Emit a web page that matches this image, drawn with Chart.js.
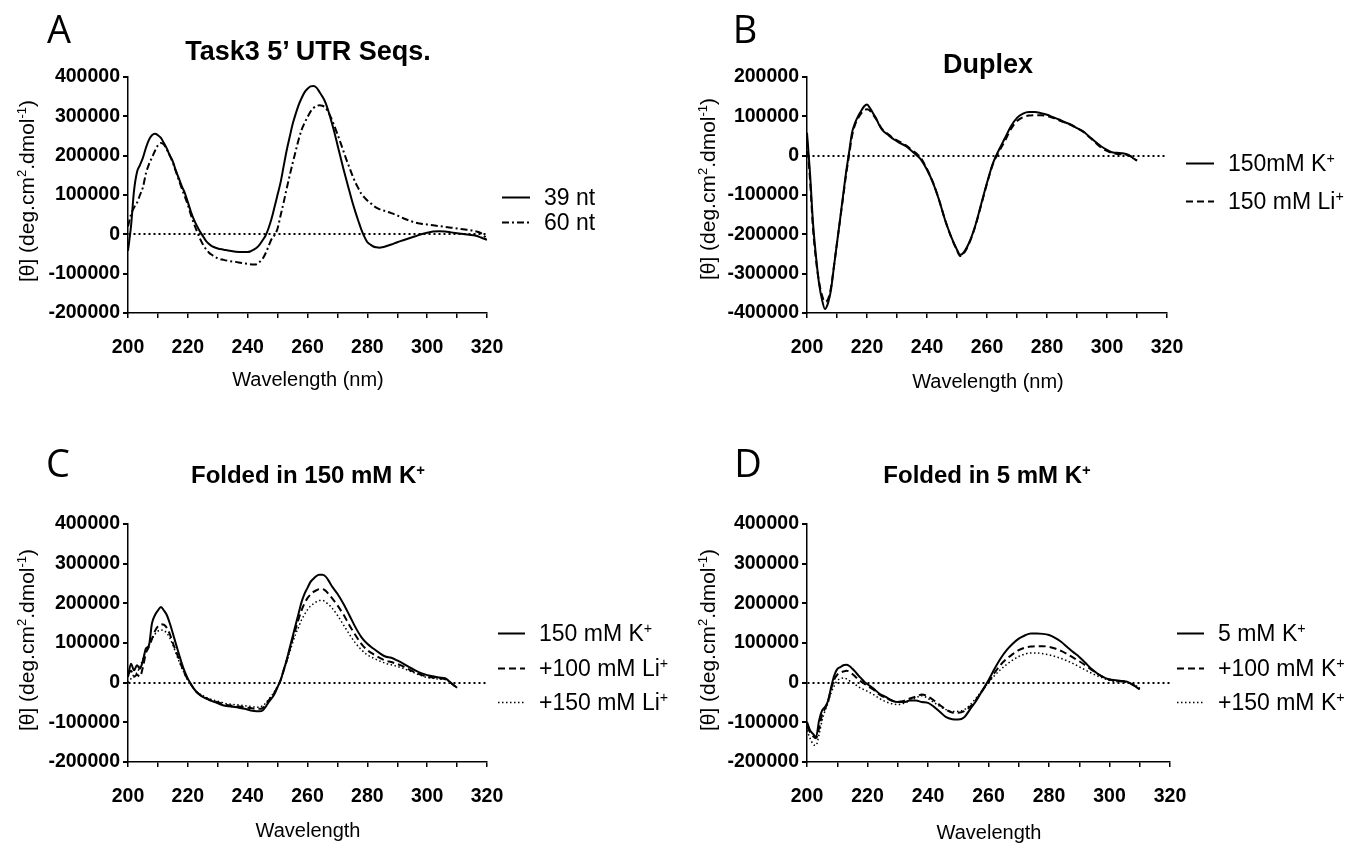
<!DOCTYPE html>
<html><head><meta charset="utf-8">
<script src="https://cdn.jsdelivr.net/npm/chart.js@4.4.1/dist/chart.umd.min.js"></script>
<style>
body{margin:0;background:#fff}
#wrap{position:relative;width:1355px;height:843px;overflow:hidden;font-family:"Liberation Sans",Arial,sans-serif;color:#000}
canvas{position:absolute}
.t{position:absolute;transform:translate(-50%,-50%);white-space:nowrap;line-height:1}
.letter{font-family:"Open Sans",sans-serif;font-size:38px}
.ttl{font-weight:bold;font-size:27px}
.ttl.sm{font-size:24px}
.xt{font-size:20px}
.yt{font-size:21px;transform:translate(-50%,-50%) rotate(-90deg)}
sup{font-size:62%;vertical-align:0.55em;line-height:0}
.lr{position:absolute;display:flex;align-items:center;transform:translateY(-50%);font-size:23px;line-height:1;white-space:nowrap}
.lr svg{display:block}
</style>
</head><body>
<div id="wrap">
<canvas id="cA" width="678" height="421" style="left:0;top:0"></canvas>
<canvas id="cB" width="677" height="421" style="left:678px;top:0"></canvas>
<canvas id="cC" width="678" height="422" style="left:0;top:421px"></canvas>
<canvas id="cD" width="677" height="422" style="left:678px;top:421px"></canvas>

<div class="t letter" style="left:59px;top:28px">A</div>
<div class="t letter" style="left:745px;top:28px">B</div>
<div class="t letter" style="left:58px;top:462px">C</div>
<div class="t letter" style="left:748px;top:462px">D</div>

<div class="t ttl" style="left:308px;top:51px">Task3 5’ UTR Seqs.</div>
<div class="t ttl" style="left:988px;top:64px">Duplex</div>
<div class="t ttl sm" style="left:308px;top:475px">Folded in 150 mM K<sup>+</sup></div>
<div class="t ttl sm" style="left:987px;top:475px">Folded in 5 mM K<sup>+</sup></div>

<div class="t xt" style="left:308px;top:379px">Wavelength (nm)</div>
<div class="t xt" style="left:988px;top:381px">Wavelength (nm)</div>
<div class="t xt" style="left:308px;top:830px">Wavelength</div>
<div class="t xt" style="left:989px;top:832px">Wavelength</div>

<div class="t yt" style="left:26px;top:191px">[θ] (deg.cm<sup>2</sup>.dmol<sup>-1</sup>)</div>
<div class="t yt" style="left:707px;top:189px">[θ] (deg.cm<sup>2</sup>.dmol<sup>-1</sup>)</div>
<div class="t yt" style="left:26px;top:640px">[θ] (deg.cm<sup>2</sup>.dmol<sup>-1</sup>)</div>
<div class="t yt" style="left:707px;top:640px">[θ] (deg.cm<sup>2</sup>.dmol<sup>-1</sup>)</div>
</div>
<script>
// A: Task3 5' UTR
const aWl39=[200,201,202,203,204,205,206,207,208,209,210,211,212,213,214,215,216,217,218,219,220,221,222,223,224,225,226,227,228,230,232,234,236,238,240,241,242,243,244,245,246,247,248,249,250,251,252,253,254,255,256,257,258,259,260,261,262,263,264,265,266,267,268,269,270,271,272,273,274,275,276,277,278,279,280,281,282,283,284,285,286,288,290,292,294,296,298,300,302,304,306,308,310,312,314,316,318,320];
const a39=[-42000,20000,110000,158000,176000,195000,220000,240000,252000,256000,252000,245000,232000,218000,200000,185000,162000,142000,122000,105000,82000,58000,38000,22000,8000,-4000,-16000,-24000,-30000,-36000,-39000,-42000,-44000,-45000,-45000,-43000,-39000,-34000,-26000,-15000,-3000,16000,40000,70000,101000,132000,172000,212000,246000,279000,305000,328000,346000,361000,370000,376000,377000,373000,362000,350000,335000,313000,287000,259000,228000,197000,167000,138000,110000,82000,57000,34000,12000,-6000,-20000,-26000,-31000,-33000,-34000,-33000,-31000,-26000,-20000,-15000,-10000,-5000,0,4000,7000,8000,7000,5000,3000,1000,-1000,-3000,-8000,-14000];
const aWl60=[200,201,202,203,204,205,206,207,208,209,210,211,212,213,214,215,216,217,218,219,220,221,222,223,224,225,226,227,228,230,232,234,236,238,240,242,243,244,245,246,247,248,249,250,251,252,253,254,255,256,257,258,259,260,261,262,263,264,265,266,267,268,269,270,271,272,273,274,275,276,277,278,279,280,281,282,284,286,288,290,292,294,296,298,300,302,304,306,308,310,312,314,316,318,320];
const a60=[20000,50000,68000,80000,100000,120000,155000,178000,195000,212000,226000,232000,228000,215000,200000,182000,160000,138000,116000,96000,75000,50000,28000,8000,-10000,-25000,-37000,-46000,-52000,-61000,-65000,-68000,-70000,-73000,-75000,-77000,-76000,-70000,-62000,-48000,-30000,-12000,-2000,15000,48000,80000,115000,148000,180000,210000,240000,265000,283000,298000,312000,321000,326000,328000,327000,322000,310000,294000,275000,255000,234000,212000,190000,170000,150000,132000,117000,103000,94000,86000,80000,73000,64000,59000,54000,48000,41000,35000,30000,27000,25000,23000,21000,19000,17000,15000,13000,11000,8000,3000,-11000];

// B: Duplex
const bWl=[200,201,202,203,204,205,206,207,208,209,210,211,212,213,214,215,216,217,218,219,220,221,222,223,224,225,227,229,231,233,235,237,238,240,242,244,246,248,250,251,252,254,256,258,260,262,264,266,268,270,272,274,276,278,280,282,284,286,288,290,292,294,296,298,300,302,304,306,307,308,309,310];
const bK=[58000,-44000,-171000,-256000,-324000,-366000,-390000,-375000,-341000,-281000,-222000,-163000,-103000,-44000,7000,58000,83000,100000,113000,125000,130000,121000,108000,96000,79000,66000,53000,41000,32000,24000,11000,-2000,-10000,-36000,-69000,-112000,-163000,-205000,-239000,-252000,-248000,-222000,-180000,-125000,-69000,-19000,15000,45000,75000,96000,107000,111000,111000,108000,104000,98000,92000,85000,79000,70000,62000,49000,36000,24000,15000,8000,7000,5000,2500,-2000,-8000,-13000];
const bLi=[40000,-60000,-185000,-265000,-320000,-355000,-372000,-365000,-335000,-280000,-222000,-165000,-108000,-50000,0,50000,78000,95000,107000,115000,118000,114000,104000,93000,80000,68000,55000,43000,35000,26000,14000,2000,-6000,-34000,-68000,-112000,-163000,-206000,-241000,-255000,-251000,-224000,-182000,-127000,-71000,-21000,10000,38000,68000,88000,98000,102000,103000,103000,101000,96000,90000,84000,78000,70000,61000,48000,34000,21000,12000,6000,4000,3000,1000,-2000,-8000,-12000];

// C: folded in 150 mM K+
const cWl=[200,201,202,203,204,205,206,207,208,209,210,211,212,213,214,215,216,217,218,219,220,221,222,223,225,227,229,231,233,235,237,239,241,243,244,245,246,247,248,249,250,251,252,253,254,255,256,257,258,259,260,261,262,263,264,265,266,267,268,270,272,274,276,278,280,282,284,286,288,290,292,294,296,298,300,302,304,306,307,308,309,310];
const cK=[14000,48000,31000,44000,35000,56000,86000,94000,149000,170000,182000,191000,182000,170000,149000,124000,98000,73000,48000,27000,10000,-3000,-15000,-24000,-36000,-43000,-49000,-55000,-59000,-61000,-63000,-66000,-70000,-72000,-72000,-70000,-61000,-49000,-40000,-28000,-11000,6000,31000,56000,86000,115000,145000,174000,203000,224000,239000,254000,262000,269000,272000,272000,268000,258000,245000,224000,199000,170000,140000,115000,98000,86000,75000,66000,63000,56000,48000,39000,31000,24000,19000,16000,13000,11000,6000,-1000,-7000,-13000];
const cLi100=[20000,30000,15000,20000,15000,40000,75000,90000,110000,130000,142000,147000,146000,138000,122000,100000,80000,60000,40000,22000,8000,-4000,-15000,-24000,-35000,-42000,-47000,-52000,-56000,-58000,-60000,-62000,-64000,-66000,-66000,-64000,-56000,-45000,-36000,-25000,-10000,6000,30000,55000,82000,110000,135000,160000,182000,200000,213000,222000,229000,233000,236000,236000,232000,224000,215000,195000,172000,145000,120000,98000,82000,72000,63000,56000,52000,47000,41000,33000,26000,20000,15000,13000,11000,9000,5000,-1000,-7000,-13000];
const cLi150=[0,10000,20000,25000,40000,60000,80000,95000,110000,122000,130000,133000,131000,125000,112000,95000,75000,55000,37000,20000,6000,-5000,-15000,-23000,-33000,-40000,-45000,-49000,-53000,-55000,-56000,-58000,-60000,-62000,-62000,-58000,-52000,-42000,-33000,-22000,-8000,6000,28000,52000,76000,100000,122000,140000,158000,172000,184000,193000,199000,204000,207000,207000,204000,197000,190000,170000,146000,122000,100000,83000,70000,62000,55000,49000,45000,41000,36000,30000,24000,18000,13000,11000,9000,8000,4000,-1000,-7000,-13000];

// D: folded in 5 mM K+
const dWl=[200,201,202,203,204,205,206,207,208,209,210,211,212,213,214,215,216,217,218,219,220,222,224,226,228,230,232,234,236,238,240,242,244,246,248,250,252,254,256,258,260,262,264,266,268,270,272,274,276,278,280,282,284,286,288,290,292,294,296,298,300,302,304,306,308,310];
const dK=[-99000,-120000,-129000,-137000,-95000,-70000,-61000,-45000,-11000,18000,34000,39000,44000,45000,42000,35000,27000,18000,10000,2000,-4000,-15000,-28000,-36000,-45000,-49000,-49000,-45000,-45000,-49000,-51000,-61000,-74000,-87000,-92000,-93000,-87000,-66000,-45000,-19000,6000,35000,61000,82000,98000,111000,119000,124000,124000,123000,120000,113000,103000,90000,77000,65000,50000,35000,23000,14000,8000,6000,4000,2000,-7000,-17000];
const dK100=[-110000,-125000,-135000,-140000,-115000,-80000,-65000,-45000,-15000,8000,20000,25000,28000,30000,28000,22000,15000,8000,2000,-3000,-8000,-18000,-30000,-38000,-45000,-48000,-46000,-40000,-35000,-30000,-35000,-45000,-57000,-68000,-75000,-76000,-72000,-60000,-42000,-20000,2000,25000,45000,60000,72000,82000,88000,91000,92000,92000,90000,86000,80000,72000,63000,54000,44000,33000,22000,14000,8000,5000,4000,1000,-6000,-15000];
const dK150=[-120000,-140000,-155000,-158000,-130000,-95000,-70000,-50000,-25000,-8000,5000,10000,12000,10000,5000,0,-5000,-10000,-15000,-18000,-22000,-30000,-40000,-48000,-53000,-55000,-52000,-45000,-38000,-33000,-40000,-50000,-60000,-68000,-73000,-72000,-68000,-55000,-38000,-18000,0,18000,33000,46000,57000,66000,72000,75000,75000,73000,70000,66000,61000,55000,48000,40000,32000,24000,17000,11000,6000,3000,2000,0,-5000,-13000];

const yTicksAC=[-200000,400000];
const yTicksB=[-400000,200000];

const LINE={
  solid:{dash:[],w:2},
  dashdot:{dash:[7,3,2,3],w:2},
  dashed:{dash:[7,4],w:2},
  dotted:{dash:[1.5,2.5],w:1.5}
};
const tickFont={family:'"Liberation Sans",Arial,sans-serif',size:19.5,weight:'bold'};

const panels=[
  {canvas:'cA',w:678,h:421,left:128,right:191,top:77,bottom:313,yr:yTicksAC,
   leg:{x:502,tx:544,ys:[197,222]},
   series:[{label:'39 nt',x:aWl39,y:a39,kind:'solid'},{label:'60 nt',x:aWl60,y:a60,kind:'dashdot'}]},
  {canvas:'cB',w:677,h:421,left:129,right:188,top:77,bottom:313,yr:yTicksB,
   leg:{x:1186,tx:1228,ys:[163,201]},
   series:[{label:'150mM K<sup>+</sup>',x:bWl,y:bK,kind:'solid'},{label:'150 mM Li<sup>+</sup>',x:bWl,y:bLi,kind:'dashed'}]},
  {canvas:'cC',w:678,h:422,left:128,right:191,top:103,bottom:341,yr:yTicksAC,
   leg:{x:498,tx:539,ys:[633,668,702]},
   series:[{label:'150 mM K<sup>+</sup>',x:cWl,y:cK,kind:'solid'},{label:'+100 mM Li<sup>+</sup>',x:cWl,y:cLi100,kind:'dashed'},{label:'+150 mM Li<sup>+</sup>',x:cWl,y:cLi150,kind:'dotted'}]},
  {canvas:'cD',w:677,h:422,left:129,right:185,top:103,bottom:341,yr:yTicksAC,
   leg:{x:1177,tx:1218,ys:[633,668,702]},
   series:[{label:'5 mM K<sup>+</sup>',x:dWl,y:dK,kind:'solid'},{label:'+100 mM K<sup>+</sup>',x:dWl,y:dK100,kind:'dashed'},{label:'+150 mM K<sup>+</sup>',x:dWl,y:dK150,kind:'dotted'}]}
];

function drawPanel(p){
  const ds=p.series.map(s=>({
    label:s.label,
    data:s.x.map((w,i)=>({x:w,y:s.y[i]})),
    borderColor:'#000',borderWidth:LINE[s.kind].w,borderDash:LINE[s.kind].dash,
    pointRadius:0,fill:false,cubicInterpolationMode:'monotone'
  }));
  new Chart(document.getElementById(p.canvas),{
    type:'line',
    data:{datasets:ds},
    options:{
      responsive:false,animation:false,
      layout:{padding:{left:0,top:p.top,right:p.right,bottom:0}},
      plugins:{legend:{display:false},tooltip:{enabled:false}},
      scales:{
        x:{type:'linear',min:200,max:320,
          afterFit:s=>{s.height=p.h-p.bottom;},
          ticks:{stepSize:10,autoSkip:false,maxRotation:0,color:'#000',font:tickFont,padding:18,
            callback:v=>v%20===0?String(v):''},
          grid:{drawOnChartArea:false,color:'#000',tickLength:5,lineWidth:1.5},
          border:{color:'#000',width:1.5}},
        y:{min:p.yr[0],max:p.yr[1],
          afterFit:s=>{s.width=p.left;},
          ticks:{stepSize:100000,color:'#000',font:tickFont,padding:3,callback:v=>String(v)},
          grid:{color:c=>c.tick&&c.tick.value===0?'#000':'rgba(0,0,0,0)',tickColor:'#000',tickLength:5,lineWidth:2,tickBorderDash:[]},
          border:{color:'#000',width:1.5,dash:[2,3]}}
      }
    }
  });
  // legend rows built from the same dataset styles
  const wrap=document.getElementById('wrap');
  p.series.forEach((s,i)=>{
    const st=LINE[s.kind];
    const row=document.createElement('div');
    row.className='lr';
    row.style.left=p.leg.x+'px';
    row.style.top=p.leg.ys[i]+'px';
    const len=p.leg.tx-p.leg.x-14;
    row.innerHTML=`<svg width="${len}" height="6"><line x1="0" y1="3" x2="${len}" y2="3" stroke="#000" stroke-width="${st.w}" stroke-dasharray="${st.dash.join(' ')||'none'}"/></svg><span style="margin-left:14px">${s.label}</span>`;
    wrap.appendChild(row);
  });
}
panels.forEach(drawPanel);
</script>
</body></html>
